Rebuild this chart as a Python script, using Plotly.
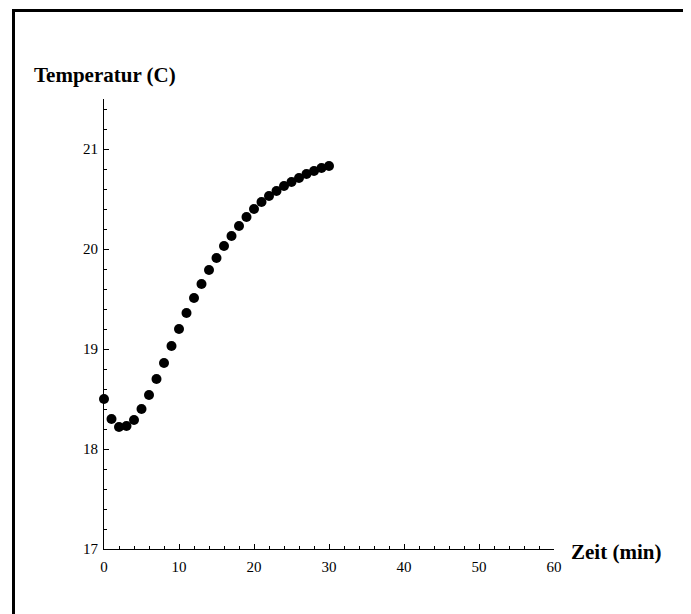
import plotly.graph_objects as go

zeit_min = list(range(0, 31))
temperatur_c = [18.50, 18.30, 18.22, 18.23, 18.29, 18.40, 18.54, 18.70, 18.86, 19.03,
                19.20, 19.36, 19.51, 19.65, 19.79, 19.91, 20.03, 20.13, 20.23, 20.32,
                20.40, 20.47, 20.53, 20.58, 20.63, 20.67, 20.71, 20.75, 20.78, 20.81,
                20.83]
x_title = "Zeit (min)"
y_title = "Temperatur (C)"

FONT = "Liberation Serif, Times New Roman, serif"
OFF = 8  # default body margin of the html page
W, H = 691 - OFF, 614 - OFF
L, R, T, B = 104 - OFF, 137, 99 - OFF, 65
pw, ph = W - L - R, H - T - B

def px_x(p):
    return (p - OFF - L) / pw

def px_y(p):
    return (H - B - (p - OFF)) / ph

fig = go.Figure(go.Scatter(
    x=zeit_min, y=temperatur_c, mode="markers",
    marker=dict(size=10, color="black"),
    cliponaxis=False, showlegend=False,
))

axis_common = dict(
    showline=True, linecolor="black", linewidth=1, mirror=False,
    showgrid=False, zeroline=False,
    ticks="inside", ticklen=5, tickwidth=1, tickcolor="black",
    tickfont=dict(family=FONT, size=15, color="black"),
)

fig.update_xaxes(range=[0, 60], dtick=10, tick0=0,
                 minor=dict(ticks="inside", dtick=2, ticklen=3, tickcolor="black", showgrid=False),
                 ticklabelstandoff=4,
                 **axis_common)
fig.update_yaxes(range=[17, 21.5], dtick=1, tick0=17,
                 minor=dict(ticks="inside", dtick=0.2, ticklen=3, tickcolor="black", showgrid=False),
                 ticklabelstandoff=2,
                 **axis_common)

fig.add_annotation(text=f"<b>{y_title}</b>", xref="paper", yref="paper",
                   x=px_x(104.5), y=px_y(75), xanchor="center", yanchor="middle",
                   showarrow=False, font=dict(family=FONT, size=21, color="black"))
fig.add_annotation(text=f"<b>{x_title}</b>", xref="paper", yref="paper",
                   x=px_x(569), y=px_y(552), xanchor="left", yanchor="middle",
                   showarrow=False, font=dict(family=FONT, size=21, color="black"))

fig.add_shape(type="rect", xref="paper", yref="paper",
              x0=px_x(13.5), x1=px_x(687.5), y0=px_y(640), y1=px_y(10.5),
              line=dict(color="black", width=3), fillcolor="rgba(0,0,0,0)")

fig.update_layout(
    width=W, height=H, autosize=False,
    margin=dict(l=L, r=R, t=T, b=B, pad=0),
    paper_bgcolor="white", plot_bgcolor="white",
    font=dict(family=FONT, color="black"),
)

fig.write_html("out.html")
